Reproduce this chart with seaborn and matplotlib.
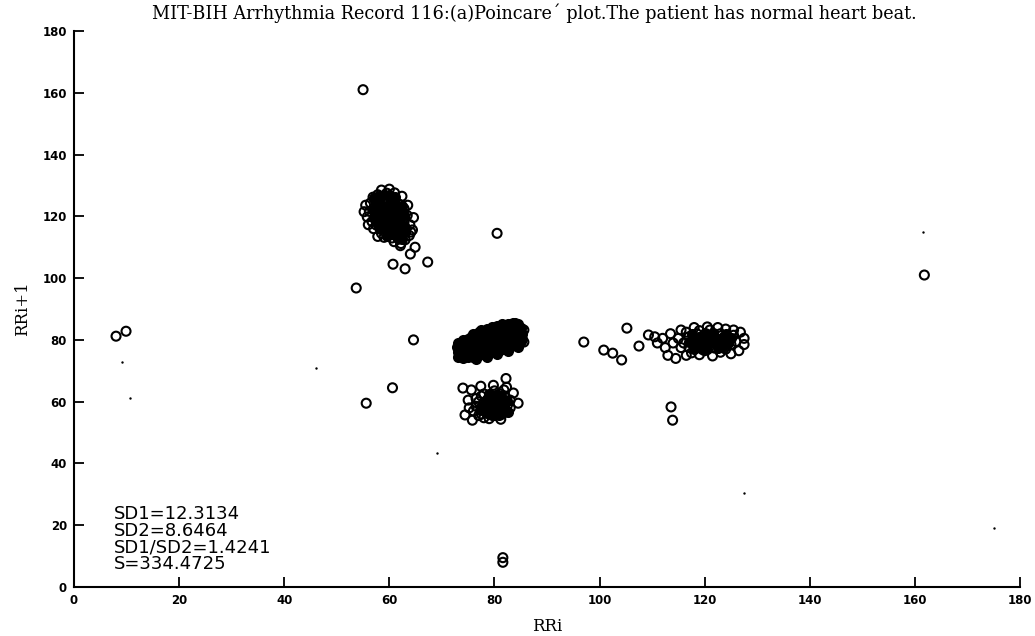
import matplotlib
matplotlib.use("Agg")
import matplotlib.pyplot as plt
import seaborn as sns
import pandas as pd

# ---------------- data (RRi, RRi+1) ----------------
# outer (open-looking) points of each group
cluster_a = [  # around (60, 120)
    (58.5,128.5),(59.5,127.5),(57.8,127),(60.2,126.2),(58.9,125.8),(57.2,125.5),(56.4,124.3),
    (55.5,123.6),(58,124.8),(59.6,124.5),(61,125),(61.8,124),(60.6,123.2),(57.1,122.8),
    (58.6,122.9),(59.9,122.2),(56.2,121.6),(55.8,119.8),(57.4,120.8),(58.9,121.1),(60.5,121),
    (61.7,121.8),(62.8,122.5),(63.4,120.3),(62,119.8),(60.9,119.2),(59.5,119.6),(58.1,119.2),
    (56.7,118.3),(57.5,117.2),(58.8,117.9),(60.2,118),(61.5,117.5),(62.8,118.2),(63.9,117.3),
    (64.4,115.6),(63.2,116),(62,115.5),(60.8,116.2),(59.5,116.4),(58.3,115.8),(57,116),
    (58.5,114.5),(59.8,114.6),(61.2,114.2),(62.5,114),(63.8,113.8),(60.5,113),(61.8,112.6),
    (63,112.4),(62.2,111.2),(60.9,111.8),(64.1,114.9),(56,117.3),(59,113.2),(57.8,113.5),
    (61,127.6),(62.4,126.5),(56.9,126.2),(60,128.8),(63.5,123.6),(64.6,119.6),(55.2,121.5),
    (62.1,110.5),(64.9,110),(64,107.8),(60.7,104.5),(63,103),(67.3,105.2),(53.7,96.8),
]
cluster_a_core = [
    (57,126),(58,126.5),(59,126.8),(60,127),(61,126.3),(57.5,124),(58.5,123.8),(59.5,123.5),
    (60.5,124.6),(61.5,123),(62.5,123.5),(56.8,122),(57.8,121.8),(58.8,122.2),(59.8,121),
    (60.8,122.2),(61.8,120.5),(62.8,120.5),(57,119.5),(58,120.2),(59,119.9),(60,120),(61,120.3),
    (62,121),(57.8,118),(58.8,118.5),(59.8,117.2),(60.8,117.8),(61.8,118.8),(62.8,116.8),
    (58,116.5),(59,116.2),(60,115.5),(61,115),(62,116.5),(63,115),(59.5,113.5),(60.5,114.3),
    (61.5,113.2),(62.5,112.8),(58.5,120.5),(60.3,125.5),(61.3,121.3),(59.3,118.8),
]
cluster_b_edge = [(85.6,83.2),(85.6,79.3)]
cluster_b_core = [  # dense blob around (80, 79)
    (73,74.5),(73,76),(73,77.5),(73,79),
    (74,74),(74,75.5),(74,77),(74,78.5),(74,80),
    (75,74.3),(75,75.8),(75,77.3),(75,78.8),(75,80.3),
    (76,74.6),(76,76.1),(76,77.6),(76,79.1),(76,80.6),(76,82),
    (77,75),(77,76.5),(77,78),(77,79.5),(77,81),(77,82.4),
    (78,75.4),(78,76.9),(78,78.4),(78,79.9),(78,81.4),(78,82.8),
    (79,75.9),(79,77.4),(79,78.9),(79,80.4),(79,81.9),(79,83.3),
    (80,76.3),(80,77.8),(80,79.3),(80,80.8),(80,82.3),(80,83.8),
    (81,76.8),(81,78.3),(81,79.8),(81,81.3),(81,82.8),(81,84.2),
    (82,77.2),(82,78.7),(82,80.2),(82,81.7),(82,83.2),(82,84.6),
    (83,77.7),(83,79.2),(83,80.7),(83,82.2),(83,83.7),(83,85),
    (84,78.3),(84,79.8),(84,81.3),(84,82.8),(84,84.3),(84,85.5),
    (85,79.5),(85,81),(85,82.5),(85,84),
    (73.5,75.2),(74.5,79.2),(75.5,81),(76.5,73.8),(77.5,83.2),(78.5,74.5),(79.5,84.1),
    (80.5,75.5),(81.5,85),(82.5,76.5),(83.5,85.5),(84.5,77.8),(72.8,77.8),
    (73.5,76.8),(73.5,78.3),(74.5,74.8),(74.5,76.3),(74.5,77.8),(75.5,75),(75.5,76.6),
    (75.5,78.1),(75.5,79.6),(76.5,75.4),(76.5,76.9),(76.5,78.4),(76.5,79.9),(76.5,81.3),
    (77.5,75.7),(77.5,77.2),(77.5,78.7),(77.5,80.2),(77.5,81.7),(78.5,76.2),(78.5,77.7),
    (78.5,79.2),(78.5,80.7),(78.5,82.1),(78.5,83.5),(79.5,76.6),(79.5,78.1),(79.5,79.6),
    (79.5,81.1),(79.5,82.6),(80.5,77),(80.5,78.5),(80.5,80),(80.5,81.5),(80.5,83),(80.5,84.4),
    (81.5,77.5),(81.5,79),(81.5,80.5),(81.5,82),(81.5,83.5),(82.5,78),(82.5,79.5),(82.5,81),
    (82.5,82.5),(82.5,84),(82.5,85.3),(83.5,78.5),(83.5,80),(83.5,81.5),(83.5,83),(83.5,84.5),
    (84.5,79.2),(84.5,80.7),(84.5,82.2),(84.5,83.7),(84.5,85),(85.2,80.3),(85.2,81.8),
]
cluster_c = [  # blob around (80, 60)
    (76,57),(76.5,58.5),(77,60),(77.5,56),(78,57.5),(78.5,59),(79,60.5),(79.5,62),(78,62.5),
    (79,56.5),(79.5,58),(80,59.5),(80.5,61),(81,62.5),(80,55.5),(80.5,57),(81,58.5),(81.5,60),
    (82,61.5),(81.5,56),(82,57.5),(82.5,59),(77,55.5),(76.5,61),(78,54.8),(80,63.5),(81.8,63.8),
    (83,60.5),(83,58),(77.5,61.8),(79,54.5),
    (82.2,67.5),(82.3,64.7),(74,64.4),(75.6,63.8),(74.4,55.7),(75.8,54),(83.6,62.8),(84.5,59.5),
    (75,60.5),(77.4,65),(79.8,65.3),(81.2,54.3),(75.2,58),
]
cluster_c_core = [
    (77.5,58.2),(78.5,56.2),(78.5,60.8),(79.5,59.2),(79.5,55.8),(80.3,58.2),(80.8,59.8),
    (81.3,61.8),(80.8,55.8),(81.8,58.8),(82.3,60.2),(79.3,61.3),(80.3,62.3),(78.2,59.8),
    (77.3,57.2),(82.5,56.5),(79.8,57.2),(81.2,57.3),(78.8,58),(80,60.8),(81.5,59.3),(79,62.5),
]
cluster_d = [  # elongated cluster around (121, 79)
    (114,79),(115,80.5),(115.5,77.5),(116,79),(117,81),(117,77.5),(118,79.5),(118.5,82),(119,78),
    (119.5,80),(120,76.5),(120.5,81.5),(121,79),(121.5,77.5),(122,80.5),(122.5,78.5),(123,82),
    (123.5,79.5),(124,77),(124.5,80.5),(125,78.5),(125.5,81.5),(126,79.5),(119,83),(121,83.2),
    (123,76),(117.5,75.8),(116.5,82.5),(120,79.5),(118,80.8),(122,77.3),
    (112,80.5),(112.5,77.5),(113,75),(113.5,82),(114.5,74),(115.5,83.2),(116.5,75),(118,84),
    (120.5,84.2),(122.5,84),(124,83.5),(125.5,83.2),(126.8,82.5),(127.5,80.5),(127.5,78.5),
    (126.5,76.5),(125,75.5),(121.5,74.8),(119,75.2),(110.5,81),(111,79),
    (97,79.3),(100.8,76.7),(102.5,75.7),(104.2,73.5),(105.2,83.8),(107.5,78),(109.3,81.6),
]
cluster_d_core = [
    (117,79.3),(117.5,82),(118,77),(118.5,78.8),(119,81),(119.5,77.2),(120,82.3),(120.5,78.2),
    (121,80.5),(121.5,82.2),(122,79),(123,80.3),(123.5,78),(124,81.8),(124.5,79),(125,80.5),
    (119.5,79.2),(121.5,80.8),(123.5,81),(120.5,77),(122.5,77.5),(118.5,80.3),
]
isolated = [
    (55,161),(80.5,114.5),(161.8,101),(8,81.2),(9.9,82.8),(64.6,80),(60.6,64.5),(55.6,59.5),
    (113.6,58.3),(113.9,54),(81.6,9.5),(81.6,8),
]
specks = [(9.1,72.8),(10.6,61.2),(69,43.5),(161.5,115),(127.5,30.5),(175,19),(46,71)]

stats_text = "SD1=12.3134\nSD2=8.6464\nSD1/SD2=1.4241\nS=334.4725"
title_text = "MIT-BIH Arrhythmia Record 116:(a)Poincare\u00b4 plot.The patient has normal heart beat."
tick_values = [0, 20, 40, 60, 80, 100, 120, 140, 160, 180]

# ---------------- build tables ----------------
open_pts = cluster_a + cluster_b_edge + cluster_c + cluster_d + isolated
core_pts = cluster_a_core + cluster_b_core + cluster_c_core + cluster_d_core
df_open = pd.DataFrame(open_pts, columns=["RRi", "RRi1"])
df_core = pd.DataFrame(core_pts, columns=["RRi", "RRi1"])
dfs = pd.DataFrame(specks, columns=["RRi", "RRi1"])

sns.set_theme(style="white")
plt.rcParams["font.family"] = ["DejaVu Sans"]

fig = plt.figure(figsize=(10.35, 6.36), dpi=100)
ax = fig.add_axes([74/1035, 1-587/636, (1020-74)/1035, (587-31)/636])

sns.scatterplot(data=df_open, x="RRi", y="RRi1", ax=ax, marker="o", s=42,
                facecolors="none", edgecolor="black", linewidth=1.5, legend=False)
sns.scatterplot(data=df_core, x="RRi", y="RRi1", ax=ax, marker="o", s=42,
                color="black", edgecolor="black", linewidth=1.5, legend=False)
sns.scatterplot(data=dfs, x="RRi", y="RRi1", ax=ax, marker="o", s=3,
                color="black", linewidth=0, legend=False)

ax.set_xlim(0, 180)
ax.set_ylim(0, 180)
ax.set_xticks(tick_values)
ax.set_yticks(tick_values)
ax.tick_params(direction="in", length=7, width=1.3, color="black", pad=5,
               labelsize=8.5, labelcolor="black", bottom=True, left=True)
for lab in ax.get_xticklabels() + ax.get_yticklabels():
    lab.set_fontweight("bold")
for side in ["top", "right"]:
    ax.spines[side].set_visible(False)
for side in ["left", "bottom"]:
    ax.spines[side].set_color("black")
    ax.spines[side].set_linewidth(1.5)

ax.set_xlabel("RRi", family="DejaVu Serif", fontsize=12, color="black", labelpad=8)
ax.set_ylabel("RRi+1", family="DejaVu Serif", fontsize=12, color="black", labelpad=8)

ax.text(7.5, 4.6, stats_text, ha="left", va="bottom", fontsize=13,
        family="DejaVu Sans", color="black", linespacing=0.9)

fig.text(534/1035, 1-13/636, title_text, ha="center", va="center",
         family="DejaVu Serif", fontsize=12.7, color="black")

fig.savefig("out.png", dpi=100, facecolor="white")
